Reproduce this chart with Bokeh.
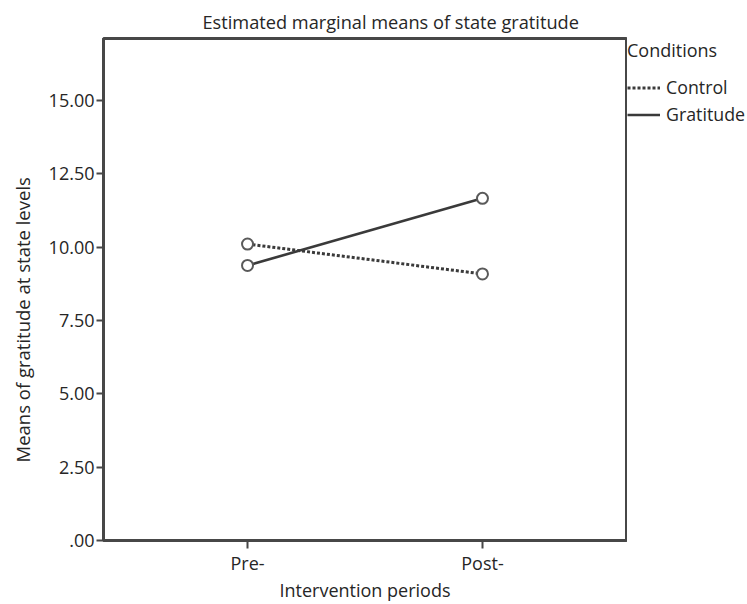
from bokeh.plotting import figure
from bokeh.layouts import row
from bokeh.models import Range1d, FixedTicker, Legend, LegendItem, Title
from bokeh.embed import file_html
from bokeh.resources import INLINE

# ---- data ----
periods = ["Pre-", "Post-"]
control = [10.11, 9.09]
gratitude = [9.38, 11.67]
y_ticks = [0, 2.5, 5, 7.5, 10, 12.5, 15]
y_tick_labels = [".00", "2.50", "5.00", "7.50", "10.00", "12.50", "15.00"]

FONT = "Open Sans"
TXT = "#262626"
LINE = "#3a3a3a"
FRAME = "#474747"

xs = list(range(len(periods)))

p = figure(width=627, height=604, output_backend="svg", toolbar_location=None,
           x_range=Range1d(-0.613, 1.613), y_range=Range1d(0, 17.12),
           min_border_left=103, min_border_right=1, min_border_top=38, min_border_bottom=63)

p.title = Title(text="Estimated marginal means of state gratitude", align="left", offset=99,
                text_font=FONT, text_font_size="18.2px", text_font_style="normal",
                text_color=TXT, standoff=10)

p.grid.visible = False
p.outline_line_color = FRAME
p.outline_line_width = 3
p.outline_line_alpha = 1
p.background_fill_color = "white"
p.border_fill_color = "white"

# axes
p.xaxis.ticker = FixedTicker(ticks=xs)
p.xaxis.major_label_overrides = {i: lab for i, lab in enumerate(periods)}
p.yaxis.ticker = FixedTicker(ticks=y_ticks)
p.yaxis.major_label_overrides = {t: l for t, l in zip(y_ticks, y_tick_labels)}

for ax in (p.xaxis[0], p.yaxis[0]):
    ax.axis_line_color = FRAME
    ax.axis_line_width = 3
    ax.major_tick_line_color = FRAME
    ax.major_tick_line_width = 2
    ax.major_tick_in = 0
    ax.minor_tick_line_color = None
    ax.major_label_text_font = FONT
    ax.major_label_text_font_size = "18px"
    ax.major_label_text_color = TXT
    ax.axis_label_text_font = FONT
    ax.axis_label_text_font_size = "18px"
    ax.axis_label_text_font_style = "normal"
    ax.axis_label_text_color = TXT

p.xaxis.major_tick_out = 8
p.xaxis.major_label_standoff = 2
p.xaxis.axis_label = "Intervention periods"
p.xaxis.axis_label_standoff = 0
p.yaxis.major_tick_out = 7
p.yaxis.major_label_standoff = 2

# y-axis title (a side title so it can sit below the frame centre, as in the reference)
p.add_layout(Title(text="Means of gratitude at state levels", align="left", offset=78,
                   vertical_align="top",
                   text_font=FONT, text_font_size="18.5px", text_font_style="normal",
                   text_color=TXT, standoff=17), "left")

# series
r_ctrl = p.line(xs, control, line_color=LINE, line_width=3, line_dash="3 2")
r_grat = p.line(xs, gratitude, line_color=LINE, line_width=2.6)
p.scatter(xs, control, marker="circle", size=11, fill_color="white",
          line_color="#5a5a5a", line_width=2)
p.scatter(xs, gratitude, marker="circle", size=11, fill_color="white",
          line_color="#5a5a5a", line_width=2)

# ---- legend panel to the right of the frame ----
q = figure(width=120, height=604, output_backend="svg", toolbar_location=None,
           x_axis_type=None, y_axis_type=None,
           min_border_left=0, min_border_right=0, min_border_bottom=63, min_border_top=38)
q.grid.visible = False
q.outline_line_color = None
q.background_fill_color = "white"
q.border_fill_color = "white"
l_ctrl = q.line(xs, control, line_color=LINE, line_width=3, line_dash="3 2", visible=False)
l_grat = q.line(xs, gratitude, line_color=LINE, line_width=2.6, visible=False)

legend = Legend(items=[LegendItem(label="Control", renderers=[l_ctrl]),
                       LegendItem(label="Gratitude", renderers=[l_grat])],
                title="Conditions", title_standoff=13,
                title_text_font=FONT, title_text_font_size="18px",
                title_text_font_style="normal", title_text_color=TXT,
                location="top_left", orientation="vertical",
                glyph_width=33, glyph_height=21, label_height=21, spacing=3,
                label_standoff=6, padding=0, margin=0,
                inactive_fill_alpha=0,
                border_line_color=None, background_fill_alpha=0,
                label_text_font=FONT, label_text_font_size="17.8px", label_text_color=TXT)
q.add_layout(legend, "center")

layout = row(p, q)
open("out.html", "w").write(file_html(layout, INLINE))
